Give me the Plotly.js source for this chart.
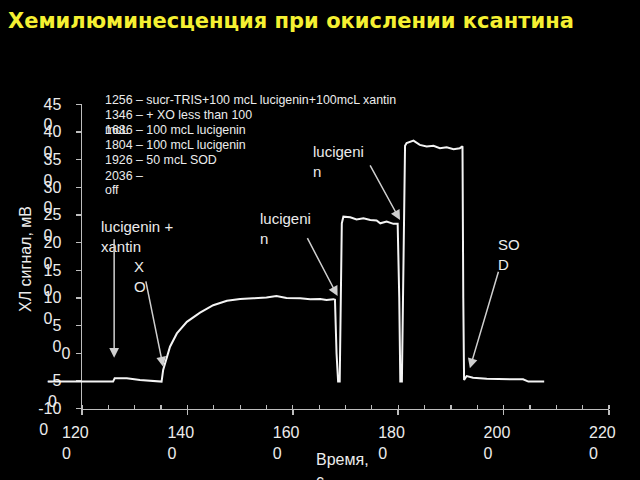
<!DOCTYPE html>
<html>
<head>
<meta charset="utf-8">
<script src="https://cdn.plot.ly/plotly-3.0.1.min.js"></script>
<style>html,body{margin:0;padding:0;background:#000;}#chart{width:640px;height:480px;}</style>
</head>
<body>
<div id="chart"></div>
<script>
// ---- data ----
const timeS = [1135, 1200, 1259, 1262, 1285, 1310, 1330, 1351,
  1354, 1359, 1367, 1380, 1399, 1424, 1449, 1475, 1500, 1525, 1550, 1569, 1588, 1614, 1633, 1652, 1664, 1677, 1680,
  1683, 1686, 1689, 1691, 1693, 1696, 1709, 1721, 1734, 1747, 1759, 1766, 1778, 1791, 1799,
  1802, 1804, 1807, 1810, 1813, 1816, 1829, 1841, 1854, 1867, 1879, 1892, 1905, 1917, 1922,
  1923.5, 1925, 1930, 1942, 1968, 2006, 2037, 2047, 2077];
const signalMV = [-51, -51, -51, -45, -45, -48, -50, -51,
  -30, -12, 12, 36, 57, 73.5, 87, 95, 98, 99.4, 101, 103.6, 100, 99.4, 97.6, 98, 96.4, 97.9, 97,
  0, -51, -51, 100, 235, 247, 246, 242, 244, 241, 240, 235, 238, 234, 234,
  100, -51, -51, 200, 375, 380, 384.5, 376.7, 373.7, 375, 370.7, 372.5, 369, 370.7, 374,
  100, -48, -41, -44, -46, -47, -47, -51, -51];

const xTickVals = [1200, 1400, 1600, 1800, 2000, 2200];
const yTickVals = [-100, -50, 0, 50, 100, 150, 200, 250, 300, 350, 400, 450];

const titleText = "Хемилюминесценция при окислении ксантина";
const yTitle = "ХЛ сигнал, мВ";
const xTitle = "Время,<br>с";

const protocolLines = [
  "1256 – sucr-TRIS+100 mcL lucigenin+100mcL xantin",
  "1346 – + XO less than 100",
  "1686 – 100 mcL lucigenin",
  "1804 – 100 mcL lucigenin",
  "1926 – 50 mcL SOD",
  "2036 –",
  "off"
];
const protocolOverlay = "mcL";

// arrow labels: text, arrow tip (time, mV)
const arrowLabels = ["lucigenin +<br>xantin", "X<br>O", "lucigeni<br>n", "lucigeni<br>n", "SO<br>D"];
const arrowTipTime = [1261, 1354, 1685, 1803.4, 1936];
const arrowTipMV = [-8, -24, 103.6, 241, -27];

// ---- layout helpers ----
const NB = "\u00a0";
function w(s){ let t=0; for(const c of s){ t += (c==="-")?0.333:0.556; } return t; }
function yLabel(v){
  const s = String(v);
  if (s.length < 2) return s + "<br>" + NB;
  const first = s.slice(0,-1), last = s.slice(-1);
  const k = Math.round(w(first)/0.278);
  return first + NB + NB + "<br>" + last + NB.repeat(k);
}
function xLabel(v){
  const s = String(v);
  const first = s.slice(0,-1), last = s.slice(-1);
  const k = Math.round((w(first) + 3*0.278 - 0.556)/0.278);
  return first + NB.repeat(3) + "<br>" + last + NB.repeat(k);
}

const W = 640, H = 480;
const axL = 82, axR = 609, axT = 104.3, axB = 408.7;
const pxPerUnit = (axR - axL) / (2200 - 1200);
const traceLeftPx = 40;
const px = x => x / W;
const py = y => 1 - y / H;

const axisColor = "#bdbdbd";
const textColor = "#ececec";

const annotations = [];
// protocol text block
const protoY = [100, 115, 130, 145, 160, 175.5, 189.5];
protocolLines.forEach((t, i) => {
  annotations.push({xref:"paper", yref:"paper", x:px(103), y:py(protoY[i]), xanchor:"left", yanchor:"middle",
    text:t, showarrow:false, font:{size:12.4, color:textColor}});
});
annotations.push({xref:"paper", yref:"paper", x:px(103), y:py(protoY[2]), xanchor:"left", yanchor:"middle",
  text:protocolOverlay, showarrow:false, font:{size:12.4, color:textColor}});

// arrow label texts (position of first-line left edge / center)
const labelPos = [[99, 236], [132, 276.5], [258, 228.5], [311, 161], [496, 254]];
arrowLabels.forEach((t, i) => {
  annotations.push({xref:"paper", yref:"paper", x:px(labelPos[i][0]), y:py(labelPos[i][1]), xanchor:"left", yanchor:"middle",
    text:t, showarrow:false, align:"left", font:{size:15, color:textColor}});
});
// arrows
const arrowTail = [[0, -120], [-17.6, -86.7], [-31, -59.3], [-30.7, -56], [29, -98]];
arrowTipTime.forEach((t, i) => {
  annotations.push({xref:"x", yref:"y", x:t, y:arrowTipMV[i], text:"", showarrow:true,
    ax:arrowTail[i][0], ay:arrowTail[i][1], arrowcolor:"#cfcfcf", arrowwidth:1.5, arrowhead:2, arrowsize:1.3, standoff:0});
});
// axis titles
annotations.push({xref:"paper", yref:"paper", x:px(25), y:py(259), text:yTitle, textangle:-90, showarrow:false,
  xanchor:"center", yanchor:"middle", font:{size:16, color:textColor}});
annotations.push({xref:"paper", yref:"paper", x:px(314), y:py(459), xanchor:"left", yanchor:"top", yshift:10,
  text:xTitle, showarrow:false, align:"left", font:{size:16, color:textColor}});

const trace = {
  x: timeS, y: signalMV, type:"scatter", mode:"lines", xaxis:"x2", yaxis:"y",
  line:{color:"#f4f4f4", width:2}, hoverinfo:"skip"
};

const layout = {
  width:W, height:H, paper_bgcolor:"#000", plot_bgcolor:"rgba(0,0,0,0)",
  margin:{l:0, r:0, t:0, b:0},
  font:{family:"Liberation Sans, Arial, sans-serif", color:textColor},
  showlegend:false,
  title:{text:titleText, x:px(8), xanchor:"left", y:py(21), yanchor:"middle",
    font:{family:"DejaVu Sans, sans-serif", size:21, color:"#f5f032", weight:"bold"}},
  xaxis:{domain:[px(axL), px(axR)], range:[1200, 2200], anchor:"y", showline:true, linecolor:axisColor, linewidth:1.5,
    showgrid:false, zeroline:false, tickmode:"array", tickvals:xTickVals, ticktext:xTickVals.map(xLabel),
    ticks:"outside", ticklen:5, tickwidth:1.5, tickcolor:axisColor, tickfont:{size:16, color:textColor},
    ticklabelstandoff:4,
    minor:{dtick:50, tick0:0, ticks:"inside", ticklen:4, tickwidth:1.2, tickcolor:axisColor, showgrid:false}},
  xaxis2:{domain:[px(traceLeftPx), px(axR)], range:[1200 - (axL - traceLeftPx)/pxPerUnit, 2200], anchor:"y",
    visible:false, showgrid:false, zeroline:false},
  yaxis:{domain:[py(axB), py(axT)], range:[-100, 450], anchor:"x", showline:true, linecolor:axisColor, linewidth:1.5,
    showgrid:false, zeroline:false, tickmode:"array", tickvals:yTickVals, ticktext:yTickVals.map(yLabel),
    ticks:"outside", ticklen:5, tickwidth:1.5, tickcolor:axisColor, tickfont:{size:16, color:textColor},
    ticklabelshift:10, ticklabelstandoff:2},
  annotations: annotations
};

Plotly.newPlot("chart", [trace], layout, {staticPlot:true, displayModeBar:false});
</script>
</body>
</html>
